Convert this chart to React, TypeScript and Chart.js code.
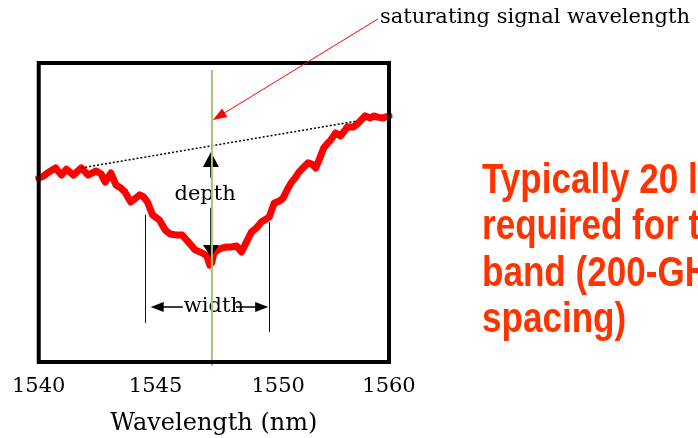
import React, { useEffect, useRef } from 'react';
import { Chart, registerables } from 'chart.js';

Chart.register(...registerables);

// Measured spectrum (wavelength in nm, relative level in arbitrary units)
const wavelengthNm = [
  1540.0, 1540.28, 1540.56, 1540.96, 1541.3, 1541.58, 1541.98, 1542.43, 1542.82, 1543.28,
  1543.56, 1543.79, 1544.12, 1544.41, 1544.69, 1544.92, 1545.25, 1545.54, 1545.76, 1545.99,
  1546.21, 1546.5, 1546.89, 1547.23, 1547.51, 1547.8, 1548.19, 1548.59, 1548.93, 1549.32,
  1549.6, 1549.77, 1549.89, 1550.0, 1550.23, 1550.45, 1550.73, 1551.02, 1551.3, 1551.58,
  1551.86, 1552.15, 1552.43, 1552.71, 1552.99, 1553.16, 1553.45, 1553.73, 1553.95, 1554.18,
  1554.41, 1554.63, 1554.86, 1555.14, 1555.37, 1555.59, 1555.82, 1556.05, 1556.27, 1556.5,
  1556.67, 1556.95, 1557.23, 1557.46, 1557.63, 1557.97, 1558.19, 1558.36, 1558.64, 1558.93,
  1559.15, 1559.32, 1559.66, 1560.0,
];
const relativeLevel = [
  61.5, 62.2, 63.5, 64.9, 62.5, 64.5, 62.5, 64.9, 62.5, 63.9,
  62.9, 60.2, 63.2, 59.2, 58.2, 56.9, 53.5, 54.8, 55.9, 55.2,
  53.5, 49.2, 47.5, 44.1, 42.8, 42.5, 42.5, 39.8, 37.5, 36.5,
  35.5, 32.4, 33.4, 36.5, 37.5, 38.1, 38.5, 38.5, 38.8, 36.8,
  40.1, 43.5, 44.8, 46.8, 47.8, 48.5, 53.2, 53.8, 54.8, 57.5,
  59.9, 61.5, 63.5, 65.2, 66.6, 66.2, 64.9, 68.2, 71.6, 73.2,
  74.2, 76.6, 75.6, 77.3, 78.6, 78.6, 79.6, 80.6, 82.3, 81.6,
  82.3, 81.9, 81.6, 82.3,
];

// Axis ticks
const xTickLabels = ['1540', '1545', '1550', '1560'];
const xTickValues = [1540, 1546.67, 1553.67, 1560];

// Annotation values
const signalWavelength = 1549.89;
const signalLineLevels = [97.7, -1.3];
const baselineX = [1542.43, 1558.19];
const baselineY = [64.9, 80.6];
const depthLevels = [70.2, 35.1];
const depthLabelPos = [1549.5, 55.9];
const widthEdges = [1546.05, 1553.16];
const widthEdgeTops = [49.2, 46.8];
const widthEdgeBottoms = [13.0, 10.0];
const widthArrowLevel = 18.4;
const widthLabelPos = [1550.0, 18.4];
const signalArrowTip = [1549.94, 80.9];
const signalLabelPos = [1559.49, 115.1];
const signalLabelText = 'saturating signal wavelength';
const noteLines = ['Typically 20 lasers', 'required for the C-', 'band (200-GHz', 'spacing)'];

const SERIF = '"DejaVu Serif", serif';

function tri(ctx: CanvasRenderingContext2D, pts: number[][]) {
  ctx.beginPath();
  ctx.moveTo(pts[0][0], pts[0][1]);
  ctx.lineTo(pts[1][0], pts[1][1]);
  ctx.lineTo(pts[2][0], pts[2][1]);
  ctx.closePath();
  ctx.fill();
}

const annotationPlugin = {
  id: 'annotations',
  afterDatasetsDraw(chart: any) {
    const { ctx, chartArea: a, scales } = chart;
    const X = (v: number) => scales.x.getPixelForValue(v);
    const Y = (v: number) => scales.y.getPixelForValue(v);
    ctx.save();

    // dotted baseline
    ctx.strokeStyle = '#000';
    ctx.lineWidth = 1.5;
    ctx.setLineDash([2, 2]);
    ctx.beginPath();
    ctx.moveTo(X(baselineX[0]), Y(baselineY[0]));
    ctx.lineTo(X(baselineX[1]), Y(baselineY[1]));
    ctx.stroke();
    ctx.setLineDash([]);

    // depth arrow
    const dx = X(signalWavelength) - 1;
    const yUp = Y(depthLevels[0]);
    const yDown = Y(depthLevels[1]);
    const ly = Y(depthLabelPos[1]);
    ctx.fillStyle = '#000';
    tri(ctx, [[dx, yUp], [dx - 8, yUp + 15], [dx + 8, yUp + 15]]);
    tri(ctx, [[dx, yDown], [dx - 8, yDown - 12], [dx + 8, yDown - 12]]);
    ctx.lineWidth = 1.5;
    ctx.beginPath();
    ctx.moveTo(dx, yUp + 14);
    ctx.lineTo(dx, ly - 17);
    ctx.moveTo(dx, ly + 13);
    ctx.lineTo(dx, yDown - 11);
    ctx.stroke();
    ctx.font = '21px ' + SERIF;
    ctx.textAlign = 'center';
    ctx.textBaseline = 'middle';
    ctx.fillText('depth', X(depthLabelPos[0]), ly);

    // width markers
    ctx.lineWidth = 1;
    ctx.strokeStyle = '#111';
    ctx.beginPath();
    for (let i = 0; i < 2; i++) {
      const ex = Math.round(X(widthEdges[i])) + 0.5;
      ctx.moveTo(ex, Y(widthEdgeTops[i]));
      ctx.lineTo(ex, Y(widthEdgeBottoms[i]));
    }
    ctx.stroke();
    const wy = Y(widthArrowLevel);
    const wl = X(widthEdges[0]) + 6;
    const wr = X(widthEdges[1]) - 1;
    const wcx = X(widthLabelPos[0]);
    ctx.fillStyle = '#000';
    tri(ctx, [[wl, wy], [wl + 13, wy - 5], [wl + 13, wy + 5]]);
    tri(ctx, [[wr, wy], [wr - 13, wy - 5], [wr - 13, wy + 5]]);
    ctx.strokeStyle = '#000';
    ctx.lineWidth = 1.5;
    ctx.beginPath();
    ctx.moveTo(wl + 10, wy);
    ctx.lineTo(wcx - 31, wy);
    ctx.moveTo(wcx + 22, wy);
    ctx.lineTo(wr - 10, wy);
    ctx.stroke();
    ctx.fillText('width', wcx, Y(widthLabelPos[1]));

    // saturating signal line
    ctx.strokeStyle = '#A4C47C';
    ctx.lineWidth = 2;
    const gx = X(signalWavelength);
    ctx.beginPath();
    ctx.moveTo(gx, Y(signalLineLevels[0]));
    ctx.lineTo(gx, Y(signalLineLevels[1]));
    ctx.stroke();

    // frame
    ctx.strokeStyle = '#000';
    ctx.lineWidth = 4;
    ctx.strokeRect(a.left, a.top, a.right - a.left, a.bottom - a.top);

    // red pointer
    const tx = X(signalArrowTip[0]);
    const ty = Y(signalArrowTip[1]);
    const sx = X(signalLabelPos[0]) - 2;
    const sy = Y(signalLabelPos[1]) + 1;
    const ang = Math.atan2(sy - ty, sx - tx);
    ctx.strokeStyle = '#FF0000';
    ctx.fillStyle = '#FF0000';
    ctx.lineWidth = 1;
    ctx.beginPath();
    ctx.moveTo(sx, sy);
    ctx.lineTo(tx + Math.cos(ang) * 10, ty + Math.sin(ang) * 10);
    ctx.stroke();
    const hl = 14, hw = 5;
    const bx = tx + Math.cos(ang) * hl, by = ty + Math.sin(ang) * hl;
    tri(ctx, [
      [tx, ty],
      [bx - Math.sin(ang) * hw, by + Math.cos(ang) * hw],
      [bx + Math.sin(ang) * hw, by - Math.cos(ang) * hw],
    ]);
    ctx.fillStyle = '#000';
    ctx.font = '21px ' + SERIF;
    ctx.textAlign = 'left';
    ctx.textBaseline = 'middle';
    ctx.fillText(signalLabelText, X(signalLabelPos[0]), Y(signalLabelPos[1]));

    // side note
    ctx.fillStyle = '#FF3300';
    ctx.font = 'bold 42px "Liberation Sans", Arial, sans-serif';
    ctx.textAlign = 'left';
    ctx.textBaseline = 'alphabetic';
    const noteX = a.right + 93;
    const noteY = a.top + 130;
    noteLines.forEach((line, i) => {
      ctx.save();
      ctx.translate(noteX, noteY + i * 46.3);
      ctx.scale(0.835, 1);
      ctx.fillText(line, 0, 0);
      ctx.restore();
    });

    ctx.restore();
  },
};

export default function App() {
  const ref = useRef<HTMLCanvasElement>(null);
  useEffect(() => {
    const chart = new Chart(ref.current as HTMLCanvasElement, {
      type: 'line',
      data: {
        datasets: [
          {
            data: wavelengthNm.map((w, i) => ({ x: w, y: relativeLevel[i] })),
            borderColor: '#FF0000',
            borderWidth: 7,
            borderJoinStyle: 'round',
            borderCapStyle: 'round',
            pointRadius: 0,
            tension: 0,
            fill: false,
            clip: false as any,
          },
        ],
      },
      options: {
        animation: false,
        responsive: true,
        maintainAspectRatio: false,
        layout: { padding: { left: 35, top: 63, right: 309, bottom: 0 } },
        plugins: { legend: { display: false }, tooltip: { enabled: false } },
        scales: {
          x: {
            type: 'linear',
            min: 1540,
            max: 1560,
            afterBuildTicks: (s: any) => {
              s.ticks = xTickValues.map((v) => ({ value: v }));
            },
            afterFit: (s: any) => {
              s.height = 76;
            },
            grid: { display: false, drawTicks: false },
            border: { display: false },
            ticks: {
              autoSkip: false,
              maxRotation: 0,
              padding: 12,
              color: '#000',
              font: { family: SERIF, size: 21 },
              callback: (_v: any, i: number) => xTickLabels[i],
            },
            title: {
              display: true,
              text: 'Wavelength (nm)',
              color: '#000',
              font: { family: SERIF, size: 24 },
              padding: { top: 0, bottom: 0 },
            },
          },
          y: { type: 'linear', min: 0, max: 100, display: false },
        },
      },
      plugins: [annotationPlugin],
    } as any);
    return () => chart.destroy();
  }, []);
  return (
    <div style={{ position: 'absolute', left: 0, top: 0, width: 698, height: 438, background: '#fff' }}>
      <canvas ref={ref} style={{ display: 'block' }} />
    </div>
  );
}
